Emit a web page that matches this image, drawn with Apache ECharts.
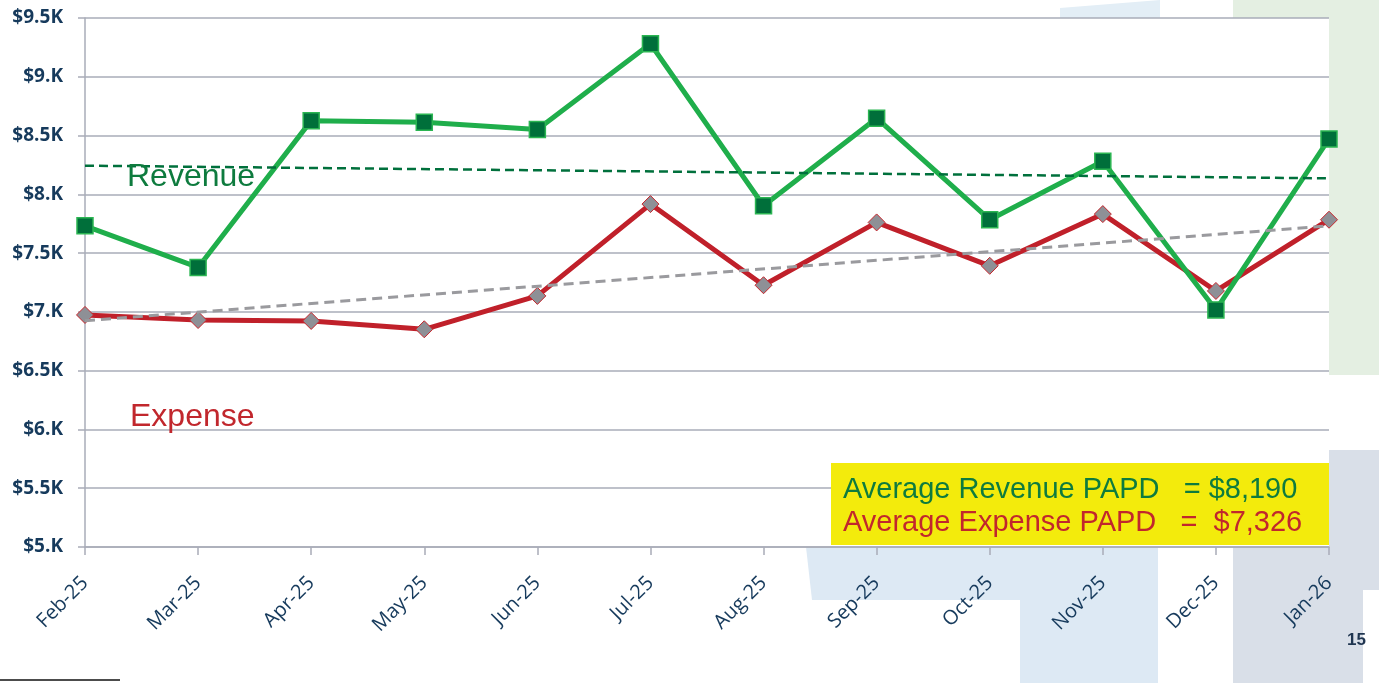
<!DOCTYPE html>
<html>
<head>
<meta charset="utf-8">
<script src="https://cdn.jsdelivr.net/npm/echarts@6/dist/echarts.min.js"></script>
<style>
  html, body { margin: 0; padding: 0; background: #fff; }
  #chart { width: 1379px; height: 683px; }
</style>
</head>
<body>
<div id="chart"></div>
<script>
const months = ["Feb-25", "Mar-25", "Apr-25", "May-25", "Jun-25", "Jul-25",
  "Aug-25", "Sep-25", "Oct-25", "Nov-25", "Dec-25", "Jan-26"];
const revenue = [7732, 7378, 8627, 8614, 8551, 9281, 7903, 8648, 7784, 8281, 7017, 8471];
const expense = [6974, 6931, 6923, 6852, 7136, 7917, 7227, 7761, 7392, 7832, 7178, 7784];
// trend line end points (first month, last month)
const revenueTrend = [8244, 8136];
const expenseTrend = [6925, 7732];
const yTicks = { min: 5000, max: 9500, step: 500 };
const avgRevenueText = "Average Revenue PAPD   = $8,190";
const avgExpenseText = "Average Expense PAPD   =  $7,326";

const navy = "#163a5c";
const gridGray = "#a9acb8";

const chart = echarts.init(document.getElementById("chart"));

const endPoints = (arr) => [[0, arr[0]], [months.length - 1, arr[1]]];

chart.setOption({
  backgroundColor: "#fff",
  animation: false,
  grid: {
    show: true,
    backgroundColor: "#fff",
    borderWidth: 0,
    z: 1,
    left: 85,
    right: 50,
    top: 18,
    bottom: 136,
  },
  xAxis: {
    type: "category",
    z: 1,
    data: months,
    boundaryGap: false,
    axisLine: { lineStyle: { color: gridGray, width: 1.5 } },
    axisTick: { show: true, length: 8, lineStyle: { color: gridGray, width: 1.5 } },
    axisLabel: {
      interval: 0,
      rotate: 45,
      margin: 33,
      color: navy,
      fontSize: 20,
      fontFamily: "Open Sans",
    },
    splitLine: { show: false },
  },
  yAxis: {
    type: "value",
    z: 1,
    min: yTicks.min,
    max: yTicks.max,
    interval: yTicks.step,
    axisLine: { show: true, lineStyle: { color: gridGray, width: 1.5 } },
    axisTick: { show: true, length: 7, lineStyle: { color: gridGray, width: 1.5 } },
    axisLabel: {
      margin: 22,
      color: navy,
      fontSize: 19,
      fontWeight: "bold",
      fontFamily: "Open Sans",
      formatter: (v) => (v % 1000 === 0 ? "$" + v / 1000 + ".K" : "$" + v / 1000 + "K"),
    },
    splitLine: { show: true, lineStyle: { color: gridGray, width: 1.5 } },
  },
  series: [
    {
      name: "Expense",
      type: "line",
      z: 3,
      data: expense,
      symbol: "diamond",
      symbolSize: 17,
      lineStyle: { color: "#c0202a", width: 5 },
      itemStyle: { color: "#8e9096", borderColor: "#c8262d", borderWidth: 1 },
    },
    {
      name: "Revenue",
      type: "line",
      z: 4,
      data: revenue,
      symbol: "rect",
      symbolSize: 16,
      lineStyle: { color: "#1fae4b", width: 5 },
      itemStyle: { color: "#006f3a", borderColor: "#2bb552", borderWidth: 1.5 },
    },
    {
      name: "Revenue trend",
      type: "line",
      z: 5,
      data: endPoints(revenueTrend),
      symbol: "none",
      lineStyle: { color: "#00703c", width: 2.5, type: [9, 5] },
    },
    {
      name: "Expense trend",
      type: "line",
      z: 5,
      data: endPoints(expenseTrend),
      symbol: "none",
      lineStyle: { color: "#9a9a9e", width: 3, type: [10, 6] },
    },
  ],
  graphic: [
    // slide background shapes
    { type: "rect", z: 0, shape: { x: 1233, y: 0, width: 146, height: 375 }, style: { fill: "#e4efe2" } },
    { type: "rect", z: 0, shape: { x: 1233, y: 450, width: 146, height: 233 }, style: { fill: "#d9dfe8" } },
    { type: "rect", z: 0, shape: { x: 1363, y: 590, width: 16, height: 93 }, style: { fill: "#ffffff" } },
    { type: "rect", z: 0, shape: { x: 1020, y: 547, width: 138, height: 136 }, style: { fill: "#dde9f4" } },
    {
      type: "polygon", z: 0,
      shape: { points: [[806, 547], [1158, 547], [1158, 600], [812, 600]] },
      style: { fill: "#dde9f4" },
    },
    {
      type: "polygon", z: 0,
      shape: { points: [[1060, 8], [1160, 0], [1160, 18], [1060, 18]] },
      style: { fill: "#e3eef6" },
    },
    { type: "line", z: 0, shape: { x1: 0, y1: 680, x2: 120, y2: 680 }, style: { stroke: "#111", lineWidth: 1.5 } },
    {
      type: "text", z: 10, left: 1347, top: 632,
      style: { text: "15", fill: "#1f3550", font: "bold 17px 'Liberation Sans'" },
    },
    // series labels
    {
      type: "text", z: 10, left: 127, top: 161,
      style: { text: "Revenue", fill: "#0e7b3e", font: "32px 'Liberation Sans'" },
    },
    {
      type: "text", z: 10, left: 130, top: 401,
      style: { text: "Expense", fill: "#c1272d", font: "32px 'Liberation Sans'" },
    },
    // averages box
    { type: "rect", z: 10, shape: { x: 831, y: 463, width: 498, height: 82 }, style: { fill: "#f3eb0c" } },
    {
      type: "text", z: 11, left: 843, top: 475,
      style: { text: avgRevenueText, fill: "#0e7b3e", font: "29px 'Liberation Sans'" },
    },
    {
      type: "text", z: 11, left: 843, top: 508,
      style: { text: avgExpenseText, fill: "#c1272d", font: "29px 'Liberation Sans'" },
    },
  ],
});

window.addEventListener("resize", () => {
  chart && chart.resize();
});
</script>
</body>
</html>
